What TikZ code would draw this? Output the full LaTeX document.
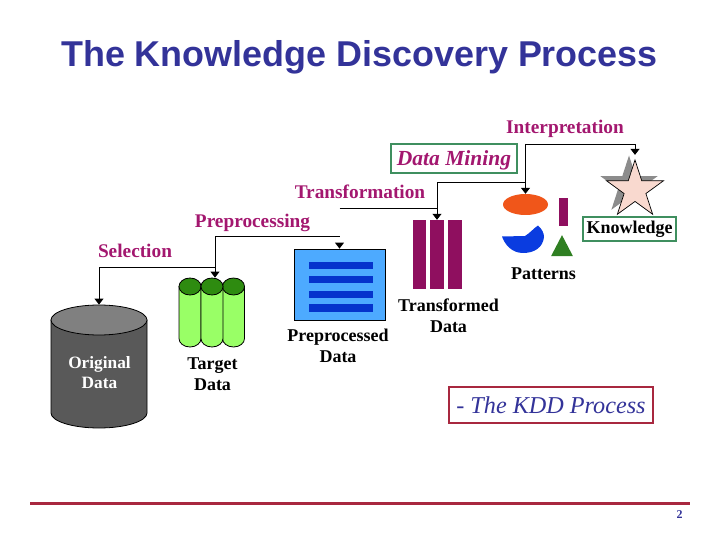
\documentclass[tikz,border=0pt]{standalone}
\usepackage{fontspec}
\setmainfont{Liberation Serif}
\newfontfamily\titlefont{Liberation Sans}
\usetikzlibrary{arrows.meta,shapes}
\definecolor{kddblue}{HTML}{333399}
\definecolor{stepcolor}{HTML}{A3176F}
\definecolor{barpurple}{HTML}{8F0F5F}
\definecolor{boxgreen}{HTML}{3F8F5F}
\definecolor{boxred}{HTML}{A8283F}
\definecolor{cylbody}{HTML}{595959}
\definecolor{cylend}{HTML}{808080}
\definecolor{lightgreen}{HTML}{99FF66}
\definecolor{darkgreen}{HTML}{2E8B10}
\definecolor{skyfill}{HTML}{4DAAFF}
\definecolor{linefill}{HTML}{0533CC}
\definecolor{blobfill}{HTML}{F0561A}
\definecolor{wedgefill}{HTML}{0A3CE0}
\definecolor{peakfill}{HTML}{2F7F22}
\definecolor{starfill}{HTML}{F9D9CF}
\tikzstyle{edge} = [draw,line width=0.9pt,-{Triangle[width=9pt,length=6pt]}]
\tikzstyle{wire} = [draw,line width=0.9pt]
\tikzstyle{stepname} = [font=\fontsize{19.3}{19.3}\selectfont\bfseries,text=stepcolor,inner sep=0pt]
\tikzstyle{dataname} = [font=\fontsize{18}{21}\selectfont\bfseries,text=black,inner sep=0pt,align=center]
\tikzstyle{greenbox} = [draw=boxgreen,line width=1.2pt,fill=white,inner sep=0pt]
\tikzstyle{bar} = [rectangle,inner sep=0pt,draw=none,fill=barpurple]
\tikzstyle{lid} = [ellipse,draw=black,line width=0.8pt,inner sep=0pt]

\begin{document}
\begin{tikzpicture}[x=1pt,y=-1pt]
    \useasboundingbox (0,0) rectangle (720,540);

    \node[font=\titlefont\bfseries\fontsize{35.9}{35.9}\selectfont,text=kddblue,inner sep=0pt] (title) at (359.5,57) {The Knowledge Discovery Process};

    % data stores, left to right
    \foreach \x/\ytop/\ybot/\rx/\ry/\body/\cap/\name in {99/320/413/48/15/cylbody/cylend/original, 190/286.5/338.5/11/8.5/lightgreen/darkgreen/targeta, 233.5/286.5/338.5/11/8.5/lightgreen/darkgreen/targetc, 212/286.5/338.5/11/8.5/lightgreen/darkgreen/targetb}{
        \draw[line width=0.8pt,fill=\body] (\x-\rx,\ytop) -- (\x-\rx,\ybot) arc[start angle=180,end angle=360,x radius=\rx pt,y radius=\ry pt] -- (\x+\rx,\ytop) -- cycle;
        \node[lid,fill=\cap,minimum width=2*\rx pt,minimum height=2*\ry pt] (\name) at (\x,\ytop) {};
    }
    \node[font=\fontsize{17.3}{19.5}\selectfont\bfseries,text=white,align=center,inner sep=0pt] (origname) at (99.5,372.5) {Original\\Data};

    \node[rectangle,draw=black,line width=0.8pt,fill=skyfill,minimum width=91pt,minimum height=71pt,inner sep=0pt] (preproc) at (339.5,284.5) {};
    \foreach \y/\name in {265.5/linea, 279.5/lineb, 294.5/linec, 308/lined}
        \node[rectangle,fill=linefill,minimum width=64pt,minimum height=7.5pt,inner sep=0pt] (\name) at (341,\y) {};

    \foreach \x/\w/\name in {419.5/13/bara, 437/14/barb, 455/13.5/barc}
        \node[bar,minimum width=\w pt,minimum height=69pt] (\name) at (\x,254.5) {};

    % patterns
    \node[ellipse,fill=blobfill,minimum width=45pt,minimum height=21pt,inner sep=0pt] (blob) at (525.5,204.5) {};
    \node[bar,minimum width=9pt,minimum height=28pt] (tick) at (563.5,212) {};
    \node[isosceles triangle,isosceles triangle apex angle=55,shape border rotate=90,fill=peakfill,minimum height=21pt,inner sep=0pt] (peak) at (562,249.5) {};
    \fill[wedgefill] (502,236.5) -- (525,236) .. controls (530,233) and (534,228) .. (538,225.5)
        .. controls (542,229) and (544,233) .. (544,237) .. controls (543,247) and (535,253) .. (523,253) .. controls (512,253) and (505,245) .. (502,236.5) -- cycle;

    % knowledge star, shadow first
    \node[star,star points=5,star point ratio=2.618,fill=black!45,minimum size=60pt,inner sep=0pt] (shadow) at (629,185.5) {};
    \node[star,star points=5,star point ratio=2.618,draw=black,line width=0.7pt,fill=starfill,minimum size=60pt,inner sep=0pt] (goal) at (635,190) {};

    \node[greenbox,minimum width=93pt,minimum height=24pt,dataname] (knowledge) at (629.5,229) {Knowledge};
    \node[greenbox,minimum width=126pt,minimum height=29pt,text height=14pt,text depth=0pt,font=\fontsize{21.5}{21.5}\selectfont\bfseries\itshape,text=stepcolor] (mining) at (454,158.5) {Data Mining};

    % step names
    \foreach \x/\y/\name/\txt in {135/251/selname/Selection, 252.5/223/prename/Preprocessing, 360/192/transname/Transformation, 565/129/intername/Interpretation}
        \node[stepname] (\name) at (\x,\y) {\txt};

    % data names
    \foreach \x/\y/\name/\txt in {212.5/374.5/targetname/{Target\\Data}, 338/345.5/prepname/{Preprocessed\\Data}, 448.5/316/transdata/{Transformed\\Data}, 543.5/274/patname/Patterns}
        \node[dataname] (\name) at (\x,\y) {\txt};

    % connectors
    \coordinate (selstart) at (215,267);
    \coordinate (prestart) at (215,236);
    \coordinate (preend) at (339.5,236);
    \coordinate (prehead) at (339.5,243);
    \coordinate (transend) at (339.5,208);
    \coordinate (minestart) at (blob.north |- 0,182);
    \coordinate (interstart) at (blob.north |- 0,144);

    \path[edge] (selstart) -| (original.north);
    \path[wire] (preend) -- (prestart);
    \path[edge] (prestart) -- (prestart |- targetb.north);
    \path[edge] (prehead) -- (preproc.north);
    \path[wire] (transend) -- (barb.north |- transend);
    \path[edge] (minestart) -| (barb.north);
    \path[edge] (interstart) -- (blob.north);
    \path[edge,shorten >=4pt] (interstart) -| (goal.north);

    % caption and footer
    \node[draw=boxred,line width=1.2pt,minimum width=204pt,minimum height=36pt,inner sep=0pt,font=\fontsize{24.2}{24.2}\selectfont\itshape,text=kddblue] (caption) at (551,405) {- The KDD Process};
    \coordinate (rulestart) at (30,503.5);
    \coordinate (ruleend) at (690,503.5);
    \draw[line width=2.4pt,color=boxred] (rulestart) -- (ruleend);
    \node[font=\fontsize{12}{12}\selectfont\bfseries,text=kddblue,inner sep=0pt] (pagenum) at (679.5,515) {2};
\end{tikzpicture}
\end{document}
